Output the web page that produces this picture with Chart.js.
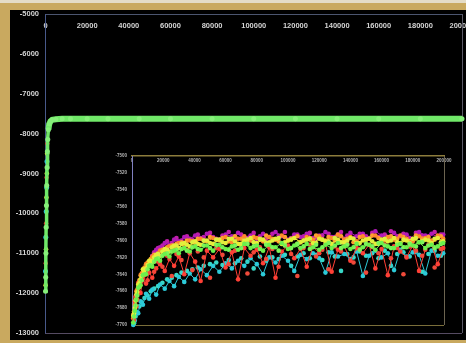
<!DOCTYPE html>
<html><head><meta charset="utf-8">
<script src="https://cdn.jsdelivr.net/npm/chart.js@4"></script>
<style>
html,body{margin:0;padding:0;width:466px;height:343px;overflow:hidden;background:#c9a95f;}
#topstrip{position:absolute;left:0;top:0;width:466px;height:3px;background:#e4dcc6;}
#mainWrap{position:absolute;left:10px;top:10px;width:456px;height:330px;background:#000;}
#insetWrap{position:absolute;left:100px;top:146px;width:352px;height:185px;background:#000;}
canvas{display:block;}
</style></head>
<body>
<div id="topstrip"></div>
<div id="mainWrap"><canvas id="mainChart" width="456" height="330"></canvas></div>
<div id="insetWrap"><canvas id="insetChart" width="352" height="185"></canvas></div>
<script>
// ---------- main chart data ----------
const mainX = [0, 100, 200, 300, 450, 600, 750, 900, 1100, 1400, 1800, 2400, 3200, 5000, 8000, 12000, 20000, 30000, 45000, 60000, 80000, 100000, 120000, 140000, 160000, 180000, 200000];
const mainGreen = [-11950, -11600, -11000, -10350, -9800, -9300, -8850, -8450, -8150, -7900, -7760, -7690, -7655, -7638, -7630, -7627, -7625, -7624, -7626, -7625, -7624, -7625, -7626, -7625, -7624, -7625, -7625];
const riseCyanX = [0, 150, 350, 550, 700];
const riseCyanY = [-11450, -10600, -9950, -9350, -8700];
const riseRedX = [100, 300, 500, 900];
const riseRedY = [-11250, -10250, -9100, -8250];
const riseYellowX = [50, 250, 450, 650, 800];
const riseYellowY = [-11800, -10900, -9600, -9000, -8500];
const mainYTicks = [-13000, -12000, -11000, -10000, -9000, -8000, -7000, -6000, -5000];
const mainXTicks = [0, 20000, 40000, 60000, 80000, 100000, 120000, 140000, 160000, 180000, 200000];

// ---------- inset chart data (two sampling runs per colour) ----------
const insetX = [800, 1800, 2800, 4000, 5500, 7000, 9000, 11000, 13000, 15500, 18000, 21000, 24000, 27000, 30000, 33500, 37000, 40500, 44000, 48000, 52000, 56000, 60000, 64000, 68000, 72000, 76000, 80000, 84000, 88000, 92000, 96000, 100000, 104000, 108000, 112000, 116000, 120000, 124000, 128000, 132000, 136000, 140000, 144000, 148000, 152000, 156000, 160000, 164000, 168000, 172000, 176000, 180000, 184000, 188000, 192000, 196000, 199500];
const insetMagenta = [null, null, null, null, null, null, null, null, -7618, -7611, -7608, -7603, -7605, -7599, -7601, -7596, -7598, -7594, -7597, -7592, -7596, -7599, -7593, -7595, -7591, -7597, -7594, -7598, -7592, -7596, -7590, -7595, -7599, -7593, -7596, -7592, -7597, -7594, -7590, -7596, -7593, -7598, -7591, -7595, -7592, -7597, -7589, -7594, -7596, -7591, -7595, -7593, -7598, -7590, -7594, -7592, -7596, -7593];
const insetOrange = [-7692, -7676, -7660, -7655, -7641, -7637, -7628, -7627, -7619, -7620, -7612, -7614, -7607, -7609, -7603, -7606, -7600, -7603, -7598, -7601, -7597, -7600, -7596, -7602, -7598, -7595, -7600, -7597, -7601, -7596, -7599, -7594, -7600, -7597, -7602, -7596, -7599, -7595, -7600, -7597, -7593, -7599, -7596, -7601, -7595, -7598, -7594, -7600, -7596, -7599, -7594, -7598, -7601, -7595, -7597, -7600, -7594, -7598];
const insetYellow = [-7689, -7680, -7664, -7652, -7646, -7634, -7633, -7624, -7625, -7617, -7618, -7610, -7613, -7606, -7609, -7603, -7607, -7601, -7605, -7600, -7604, -7599, -7603, -7598, -7604, -7600, -7597, -7603, -7599, -7602, -7598, -7604, -7600, -7597, -7602, -7599, -7603, -7598, -7601, -7604, -7599, -7602, -7597, -7603, -7600, -7598, -7604, -7599, -7601, -7597, -7603, -7600, -7598, -7602, -7599, -7603, -7597, -7601];
const insetGreen = [-7697, -7683, -7670, -7656, -7653, -7641, -7640, -7630, -7631, -7622, -7624, -7616, -7619, -7612, -7615, -7609, -7613, -7607, -7611, -7606, -7612, -7605, -7610, -7607, -7611, -7604, -7609, -7606, -7612, -7605, -7608, -7603, -7610, -7606, -7609, -7604, -7608, -7611, -7605, -7609, -7603, -7607, -7610, -7604, -7608, -7605, -7611, -7603, -7607, -7609, -7604, -7608, -7606, -7602, -7609, -7605, -7607, -7603];
const insetCyan = [-7700, -7695, -7684, -7686, -7672, -7676, -7663, -7669, -7658, -7664, -7652, -7657, -7648, -7654, -7643, -7649, -7639, -7646, -7634, -7641, -7630, -7637, -7627, -7633, -7624, -7630, -7621, -7628, -7640, -7620, -7626, -7618, -7624, -7636, -7617, -7622, -7615, -7621, -7638, -7614, -7619, -7616, -7622, -7613, -7642, -7618, -7612, -7620, -7615, -7635, -7611, -7619, -7614, -7617, -7639, -7612, -7618, -7615];
const insetRed = [-7688, -7672, -7678, -7650, -7662, -7645, -7651, -7638, -7644, -7633, -7628, -7636, -7622, -7630, -7619, -7640, -7615, -7625, -7648, -7612, -7620, -7610, -7632, -7614, -7646, -7609, -7618, -7611, -7627, -7608, -7644, -7613, -7606, -7621, -7610, -7631, -7607, -7615, -7604, -7637, -7611, -7606, -7624, -7609, -7615, -7605, -7633, -7610, -7641, -7607, -7613, -7620, -7606, -7636, -7611, -7604, -7628, -7609];

const insetX2 = [1300, 2300, 3400, 4700, 6200, 8000, 10000, 12000, 14200, 16700, 19500, 22500, 25500, 28500, 31700, 35200, 38700, 42200, 46000, 50000, 54000, 58000, 62000, 66000, 70000, 74000, 78000, 82000, 86000, 90000, 94000, 98000, 102000, 106000, 110000, 114000, 118000, 122000, 126000, 130000, 134000, 138000, 142000, 146000, 150000, 154000, 158000, 162000, 166000, 170000, 174000, 178000, 182000, 186000, 190000, 194000, 198000];
const insetMagenta2 = [null, null, null, null, null, null, null, null, -7614, -7609, -7606, -7601, -7603, -7597, -7600, -7595, -7599, -7593, -7596, -7591, -7598, -7594, -7590, -7596, -7593, -7597, -7591, -7595, -7598, -7592, -7594, -7590, -7597, -7593, -7595, -7591, -7598, -7594, -7592, -7596, -7590, -7594, -7597, -7592, -7595, -7591, -7596, -7593, -7589, -7595, -7592, -7597, -7591, -7594, -7596, -7590, -7593];
const insetOrange2 = [-7684, -7668, -7658, -7647, -7639, -7632, -7626, -7622, -7617, -7615, -7611, -7608, -7606, -7604, -7602, -7600, -7601, -7598, -7600, -7596, -7599, -7597, -7601, -7595, -7598, -7600, -7596, -7599, -7594, -7598, -7601, -7596, -7598, -7595, -7600, -7597, -7594, -7599, -7596, -7600, -7595, -7598, -7602, -7596, -7599, -7594, -7597, -7600, -7595, -7598, -7596, -7601, -7594, -7598, -7596, -7599, -7595];
const insetYellow2 = [-7686, -7671, -7661, -7650, -7642, -7636, -7629, -7624, -7620, -7616, -7613, -7611, -7608, -7606, -7604, -7605, -7602, -7604, -7600, -7603, -7599, -7602, -7598, -7601, -7604, -7599, -7602, -7598, -7603, -7600, -7597, -7602, -7599, -7604, -7600, -7598, -7603, -7599, -7601, -7597, -7602, -7600, -7598, -7603, -7599, -7601, -7604, -7598, -7600, -7602, -7599, -7603, -7597, -7601, -7600, -7598, -7602];
const insetGreen2 = [-7690, -7677, -7665, -7655, -7647, -7640, -7634, -7629, -7625, -7621, -7618, -7615, -7613, -7611, -7610, -7612, -7608, -7610, -7606, -7609, -7605, -7608, -7611, -7606, -7609, -7604, -7607, -7610, -7605, -7608, -7612, -7606, -7609, -7604, -7607, -7610, -7605, -7608, -7603, -7606, -7609, -7605, -7608, -7611, -7604, -7607, -7603, -7606, -7609, -7605, -7608, -7604, -7607, -7602, -7606, -7609, -7604];
const insetCyan2 = [-7698, -7690, -7686, -7678, -7673, -7668, -7665, -7660, -7657, -7654, -7650, -7646, -7644, -7641, -7638, -7636, -7634, -7632, -7630, -7628, -7626, -7629, -7623, -7627, -7621, -7625, -7633, -7619, -7624, -7620, -7622, -7617, -7630, -7619, -7615, -7621, -7617, -7623, -7614, -7619, -7636, -7616, -7620, -7613, -7618, -7615, -7621, -7612, -7630, -7616, -7614, -7619, -7613, -7637, -7616, -7612, -7618];
const insetRed2 = [-7694, -7666, -7670, -7655, -7648, -7641, -7647, -7630, -7637, -7625, -7631, -7618, -7642, -7616, -7623, -7611, -7635, -7613, -7620, -7644, -7609, -7617, -7628, -7612, -7606, -7639, -7614, -7608, -7622, -7610, -7631, -7606, -7616, -7642, -7609, -7605, -7619, -7611, -7634, -7607, -7613, -7604, -7626, -7610, -7638, -7608, -7615, -7605, -7621, -7609, -7640, -7607, -7612, -7618, -7605, -7632, -7610];
const insetYTicks = [-7700, -7680, -7660, -7640, -7620, -7600, -7580, -7560, -7540, -7520, -7500];
const insetXTicks = [0, 20000, 40000, 60000, 80000, 100000, 120000, 140000, 160000, 180000, 200000];

// ---------- helpers ----------
const pts = (xs, ys) => xs.map((x, i) => ({ x: x, y: ys[i] }));
const plain = v => String(v);

const framePlugin = {
  id: 'frame',
  beforeDatasetsDraw(chart, args, o) {
    const { ctx, chartArea: a } = chart;
    ctx.save();
    ctx.lineWidth = 1;
    const seg = (x1, y1, x2, y2, c) => { ctx.strokeStyle = c; ctx.beginPath(); ctx.moveTo(x1, y1); ctx.lineTo(x2, y2); ctx.stroke(); };
    seg(a.left, Math.round(a.bottom) + 0.5, a.right, Math.round(a.bottom) + 0.5, o.bottom);
    seg(Math.round(a.right) + 0.5, a.top, Math.round(a.right) + 0.5, a.bottom, o.right);
    ctx.restore();
  }
};

Chart.defaults.font.family = "'Liberation Sans', Arial, sans-serif";

// ---------- main chart ----------
new Chart(document.getElementById('mainChart'), {
  type: 'scatter',
  data: {
    datasets: [
      { data: pts(mainX, mainGreen), showLine: true, borderColor: '#70e868', backgroundColor: '#86f07a', borderWidth: 6, pointRadius: 2.5, pointBorderWidth: 0, clip: false,
        segment: { borderWidth: c => (c.p1.parsed.y < -7800 ? 3.5 : 6) } },
      { data: pts(riseCyanX, riseCyanY), showLine: false, backgroundColor: '#2cc8d8', pointRadius: 2.5, pointBorderWidth: 0, clip: false },
      { data: pts(riseRedX, riseRedY), showLine: false, backgroundColor: '#e04030', pointRadius: 2.2, pointBorderWidth: 0, clip: false },
      { data: pts(riseYellowX, riseYellowY), showLine: false, backgroundColor: '#d8e840', pointRadius: 2.3, pointBorderWidth: 0, clip: false }
    ]
  },
  options: {
    responsive: false, animation: false, devicePixelRatio: 1,
    layout: { padding: { left: 0, right: 3, top: 0, bottom: 7 } },
    plugins: { legend: { display: false }, tooltip: { enabled: false },
      frame: { bottom: '#554b62', right: '#5a5866' } },
    scales: {
      x: {
        type: 'linear', position: 'top', min: 0, max: 200000,
        afterBuildTicks: s => { s.ticks = mainXTicks.map(v => ({ value: v })); },
        afterFit: s => { s.height = 2.5; s.paddingLeft = 0; s.paddingRight = 0; },
        grid: { display: false, drawTicks: false },
        border: { display: true, color: '#4c5670', width: 1 },
        ticks: { callback: plain, color: '#d4d4d4', font: { size: 7.5, weight: 'bold' }, mirror: true, padding: 7, autoSkip: false, maxRotation: 0 }
      },
      y: {
        type: 'linear', position: 'left', min: -13000, max: -5000,
        afterBuildTicks: s => { s.ticks = mainYTicks.map(v => ({ value: v })); },
        afterFit: s => { s.width = 35.5; s.paddingTop = 0; s.paddingBottom = 0; },
        grid: { display: false, drawTicks: false },
        border: { display: true, color: '#48598a', width: 1 },
        ticks: { callback: plain, color: '#d4d4d4', font: { size: 7.5, weight: 'bold' }, padding: 6.5 }
      }
    }
  },
  plugins: [framePlugin]
});

// ---------- inset chart ----------
const insetSeries = [
  [insetX, insetGreen, '#6cf04c', true],
  [insetX2, insetGreen2, '#7cf45a', false],
  [insetX, insetYellow, '#e6ee3a', true],
  [insetX2, insetYellow2, '#dcf040', false],
  [insetX, insetRed, '#ff4036', true],
  [insetX2, insetRed2, '#f04a3a', false],
  [insetX, insetCyan, '#2ccad8', true],
  [insetX2, insetCyan2, '#38d8c8', false],
  [insetX, insetOrange, '#ff8a2a', true],
  [insetX2, insetOrange2, '#ffa030', false],
  [insetX, insetMagenta, '#b21ab8', true],
  [insetX2, insetMagenta2, '#c020a8', false]
];
new Chart(document.getElementById('insetChart'), {
  type: 'scatter',
  data: {
    datasets: insetSeries.map(([xs, ys, c, line]) => ({
      data: pts(xs, ys), showLine: line, borderColor: c, backgroundColor: c,
      borderWidth: 1, pointRadius: 2.3, pointBorderWidth: 0, clip: false
    }))
  },
  options: {
    responsive: false, animation: false, devicePixelRatio: 1,
    layout: { padding: { left: 0, right: 8, top: 8, bottom: 6 } },
    plugins: { legend: { display: false }, tooltip: { enabled: false },
      frame: { bottom: '#7a6e3a', right: '#6c6450' } },
    scales: {
      x: {
        type: 'linear', position: 'top', min: 0, max: 200000,
        afterBuildTicks: s => { s.ticks = insetXTicks.map(v => ({ value: v })); },
        ticks: { callback: plain, color: '#b8b8b8', font: { size: 4.5, weight: 'bold' }, mirror: true, padding: 2.3, autoSkip: false, maxRotation: 0 },
        afterFit: s => { s.height = 2; s.paddingLeft = 0; s.paddingRight = 0; },
        grid: { display: false, drawTicks: false },
        border: { display: true, color: '#8c7c3c', width: 1.5 }
      },
      y: {
        type: 'linear', position: 'left', min: -7700, max: -7500,
        afterBuildTicks: s => { s.ticks = insetYTicks.map(v => ({ value: v })); },
        ticks: { callback: plain, color: '#b8b8b8', font: { size: 4.5, weight: 'bold' }, padding: 5 },
        afterFit: s => { s.width = 32; s.paddingTop = 0; s.paddingBottom = 0; },
        grid: { display: false, drawTicks: false },
        border: { display: true, color: '#8080c0', width: 1 }
      }
    }
  },
  plugins: [framePlugin]
});
</script>
</body></html>
